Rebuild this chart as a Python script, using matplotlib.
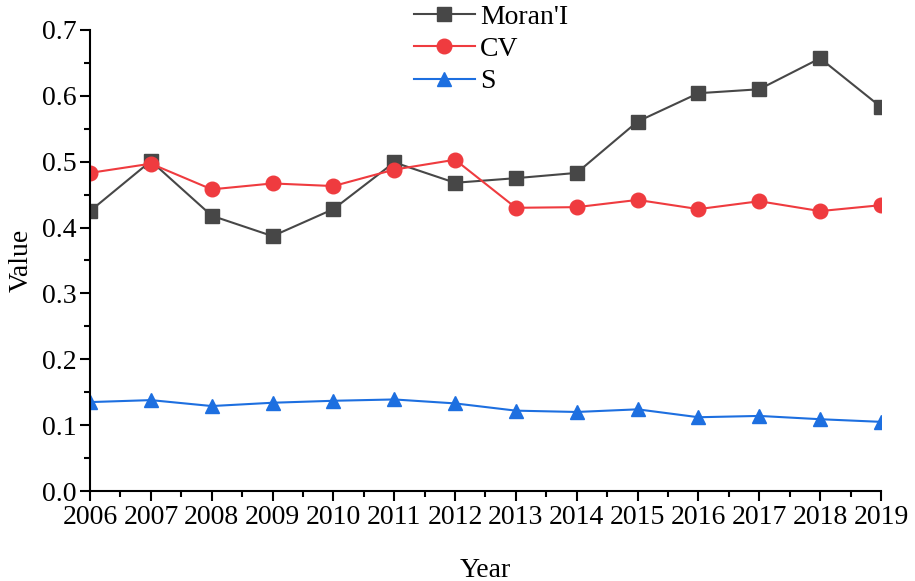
import matplotlib.pyplot as plt
from matplotlib.ticker import MultipleLocator

years = list(range(2006, 2020))
moran = [0.425, 0.501, 0.418, 0.387, 0.428, 0.499, 0.468, 0.475, 0.483, 0.561, 0.604, 0.610, 0.657, 0.583]
cv = [0.483, 0.497, 0.458, 0.467, 0.463, 0.488, 0.503, 0.430, 0.431, 0.442, 0.428, 0.440, 0.425, 0.434]
s = [0.135, 0.138, 0.129, 0.134, 0.137, 0.139, 0.133, 0.122, 0.120, 0.124, 0.112, 0.114, 0.109, 0.105]

plt.rcParams['font.family'] = ['Liberation Serif', 'DejaVu Serif']

fig = plt.figure(figsize=(9.15, 5.81), dpi=100)
ax = fig.add_axes([0.0984, 0.1549, 0.8644, 0.7935])

ax.plot(years, moran, color="#474747", marker="s", markersize=9.5, linewidth=1.5, label="Moran'I")
ax.plot(years, cv, color="#ef3b3f", marker="o", markersize=10.5, linewidth=1.5, label="CV")
ax.plot(years, s, color="#1d6fe0", marker="^", markersize=10.5, linewidth=1.5, label="S")

ax.set_xlim(2006, 2019)
ax.set_ylim(0, 0.7)
ax.set_xticks(years)
ax.xaxis.set_minor_locator(MultipleLocator(0.5))
ax.yaxis.set_major_locator(MultipleLocator(0.1))
ax.yaxis.set_minor_locator(MultipleLocator(0.05))
ax.yaxis.set_major_formatter(plt.FuncFormatter(lambda v, p: f"{v:.1f}"))

for side in ["top", "right"]:
    ax.spines[side].set_visible(False)
for side in ["left", "bottom"]:
    ax.spines[side].set_linewidth(1.5)
ax.tick_params(which="major", direction="out", length=7, width=1.5, labelsize=20, pad=3)
ax.tick_params(which="minor", direction="out", length=4, width=1.5)

ax.set_xlabel("Year", fontsize=20, labelpad=20)
ax.set_ylabel("Value", fontsize=20, labelpad=6)

ax.legend(loc="upper left", bbox_to_anchor=(0.395, 1.08), frameon=False, fontsize=20,
          handlelength=2.2, handletextpad=0.2, labelspacing=0.25, borderaxespad=0)

fig.savefig("out.png", dpi=100)
